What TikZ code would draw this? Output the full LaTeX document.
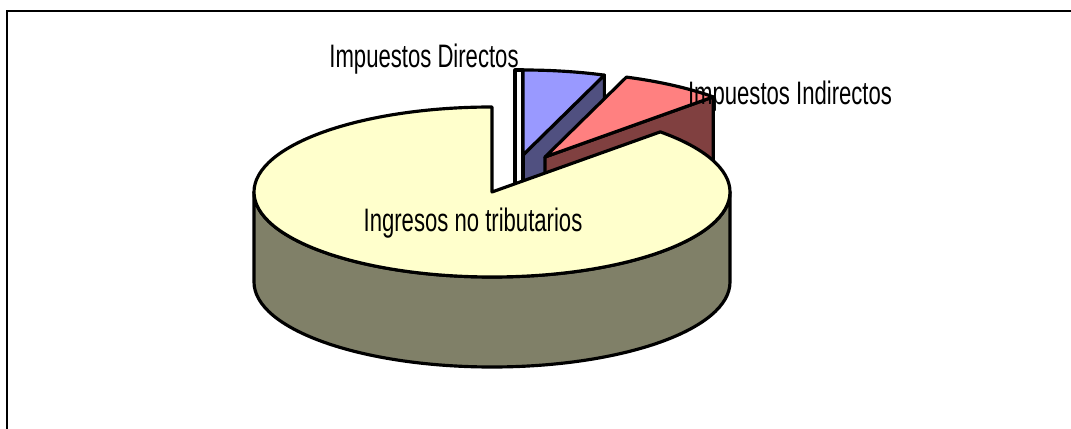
\documentclass[tikz,border=0pt]{standalone}
\usepackage{fontspec}
\setmainfont{Liberation Sans}
\usepackage{xcolor}
\usepackage{tikz}
\usetikzlibrary{calc}
\definecolor{nontribtop}{HTML}{FFFFCC}
\definecolor{nontribside}{HTML}{808068}
\definecolor{dirtop}{HTML}{9999FF}
\definecolor{dirside}{HTML}{505080}
\definecolor{indtop}{HTML}{FF8080}
\definecolor{indside}{HTML}{804040}
\tikzset{slice/.style={draw=black,line width=1.8pt,line join=round},
  lbl/.style={font=\fontsize{18.5}{22}\selectfont,inner sep=0pt,anchor=base}}
\newcommand{\narrow}[1]{\scalebox{0.68}[1]{#1}}

\begin{document}
\begin{tikzpicture}[x=0.02cm,y=0.02cm]
    \useasboundingbox (0,0) rectangle (1071,429);
    \draw[line width=1.1pt] (7,0) -- (7,418) -- (1071,418);

    \coordinate (ci) at (492,237);
    \coordinate (cd) at (523,274);
    \coordinate (cr) at (545,272);

    % Impuestos Directos
    \draw[slice,fill=dirside] (cd) -- ($(cd)+(70:238 and 85)$) -- ++(0,-90) -- ($(cd)+(0,-90)$) -- cycle;
    \draw[slice,fill=white] ($(cd)+(-8,85)$) rectangle ($(cd)+(0,-90)$);
    \draw[slice,fill=dirtop] (cd) -- ($(cd)+(0,85)$) arc[start angle=90,end angle=70,x radius=238,y radius=85] -- cycle;

    % Impuestos Indirectos
    \draw[slice,fill=indside] (cr) -- ($(cr)+(45:238 and 85)$) -- ++(0,-90) -- ($(cr)+(0,-90)$) -- cycle;
    \draw[slice,fill=indtop] (cr) -- ($(cr)+(70:238 and 85)$) arc[start angle=70,end angle=45,x radius=238,y radius=85] -- cycle;

    % Ingresos no tributarios
    \draw[slice,fill=nontribside] ($(ci)+(-238,0)$) arc[start angle=180,end angle=360,x radius=238,y radius=85]
        -- ++(0,-90) arc[start angle=360,end angle=180,x radius=238,y radius=85] -- cycle;
    \draw[slice,fill=nontribtop] (ci) -- ($(ci)+(0,85)$) arc[start angle=90,end angle=405,x radius=238,y radius=85] -- cycle;

    \node[lbl] (dir) at (424,361) {\narrow{Impuestos Directos}};
    \node[lbl] (ind) at (790,324) {\narrow{Impuestos Indirectos}};
    \node[lbl] (nontrib) at (473,197) {\narrow{Ingresos no tributarios}};
\end{tikzpicture}
\end{document}
